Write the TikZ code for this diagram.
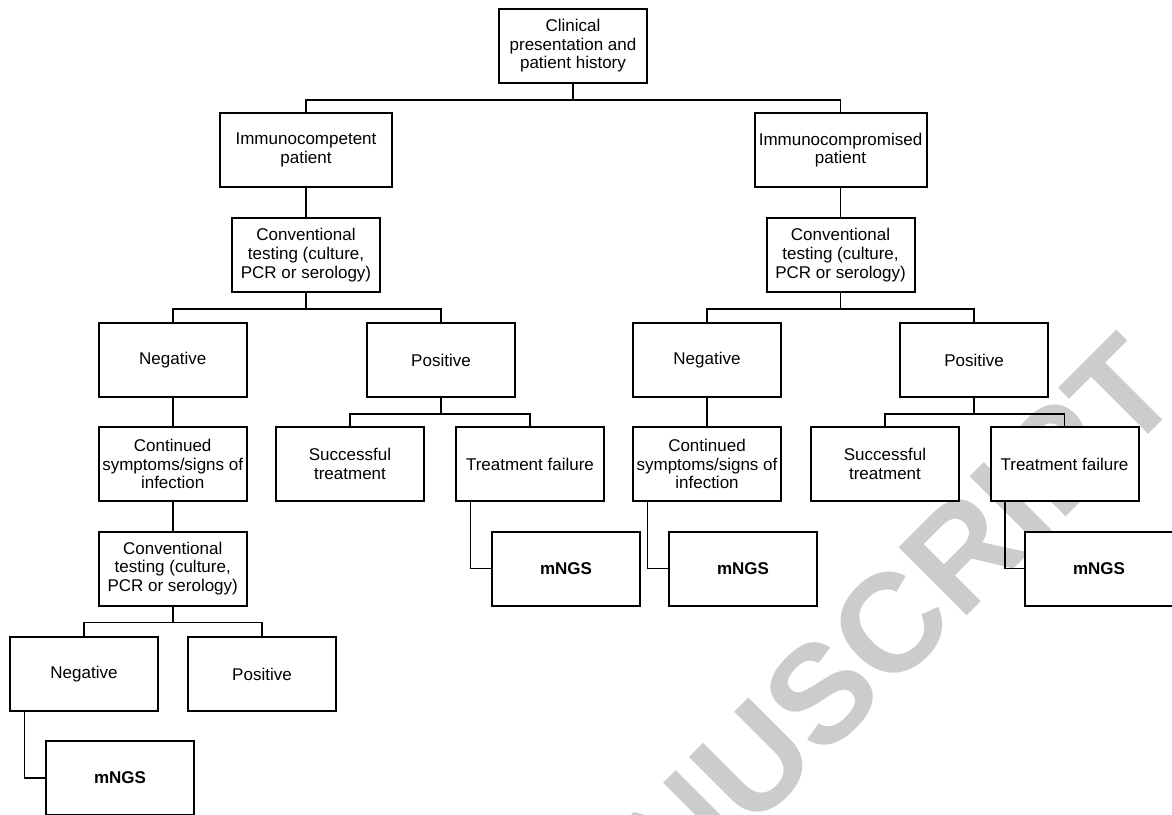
\documentclass[tikz,border=0pt]{standalone}
\usepackage{fontspec}
\setmainfont{Liberation Sans}

\begin{document}
\begin{tikzpicture}[x=0.5pt, y=-0.5pt,
    box/.style={draw, fill=white, line width=1pt, minimum width=74pt, minimum height=37pt,
        inner sep=1pt, align=center, font=\fontsize{8.5}{9.3}\selectfont},
    widebox/.style={box, minimum width=86pt},
    boldbox/.style={box, font=\fontsize{8.5}{9.3}\selectfont\bfseries},
    link/.style={line width=0.9pt}]

    % Fix the size of the picture
    \useasboundingbox (0,0) rectangle (1172,814);
    \clip (0,0) rectangle (1172,814);

    % Watermark behind the tree
    \node[text=black!20, font=\fontsize{70}{70}\selectfont\bfseries, rotate=45,
        anchor=base east, inner sep=0pt] (mark) at (1186,397) {MANUSCRIPT};

    % Root and the two kinds of patient
    \node[box] (clin) at (573,46) {Clinical\\presentation and\\patient history};
    \node[widebox] (icomp) at (306,150) {Immunocompetent\\patient};
    \node[widebox] (icpro) at (840.5,150) {Immunocompromised\\patient};

    % Conventional testing under each kind
    \node[box] (convL) at (306,255) {Conventional\\testing (culture,\\PCR or serology)};
    \node[box] (convR) at (840.5,255) {Conventional\\testing (culture,\\PCR or serology)};

    % Test results
    \node[box] (negL) at (172.7,360) {Negative};
    \node[box] (posL) at (441,360) {Positive};
    \node[box] (negR) at (707,360) {Negative};
    \node[box] (posR) at (974,360) {Positive};

    % Outcomes after the results
    \node[box] (contL) at (172.7,464) {Continued\\symptoms/signs of\\infection};
    \node[box] (succL) at (350,464) {Successful\\treatment};
    \node[box] (failL) at (530,464) {Treatment failure};
    \node[box] (contR) at (707,464) {Continued\\symptoms/signs of\\infection};
    \node[box] (succR) at (885,464) {Successful\\treatment};
    \node[box] (failR) at (1064.5,464) {Treatment failure};

    % Second round of testing on the left
    \node[box] (conv2) at (172.7,568.5) {Conventional\\testing (culture,\\PCR or serology)};
    \node[box] (neg2) at (84,674) {Negative};
    \node[box] (pos2) at (262,674) {Positive};

    % mNGS boxes
    \node[boldbox] (mngsA) at (566,568.5) {mNGS};
    \node[boldbox] (mngsB) at (743,568.5) {mNGS};
    \node[boldbox] (mngsC) at (1099,568.5) {mNGS};
    \node[boldbox] (mngsD) at (120,778) {mNGS};

    % Split connectors (parent / children)
    \foreach \p/\a/\b in {clin/icomp/icpro, convL/negL/posL, convR/negR/posR,
                          posL/succL/failL, posR/succR/failR, conv2/neg2/pos2} {
        \draw[link] (\p.south) -- ++(0,16) -| (\a.north);
        \draw[link] (\p.south) -- ++(0,16) -| (\b.north);
    }

    % Straight connectors
    \foreach \p/\c in {icomp/convL, icpro/convR, negL/contL, negR/contR, contL/conv2} {
        \draw[link] (\p.south) -- (\p.south |- \c.north);
    }

    % Elbow connectors into mNGS
    \foreach \p/\m in {failL/mngsA, contR/mngsB, failR/mngsC, neg2/mngsD} {
        \draw[link] ([xshift=7.75pt]\p.south west) |- (\m.west);
    }

\end{tikzpicture}
\end{document}
